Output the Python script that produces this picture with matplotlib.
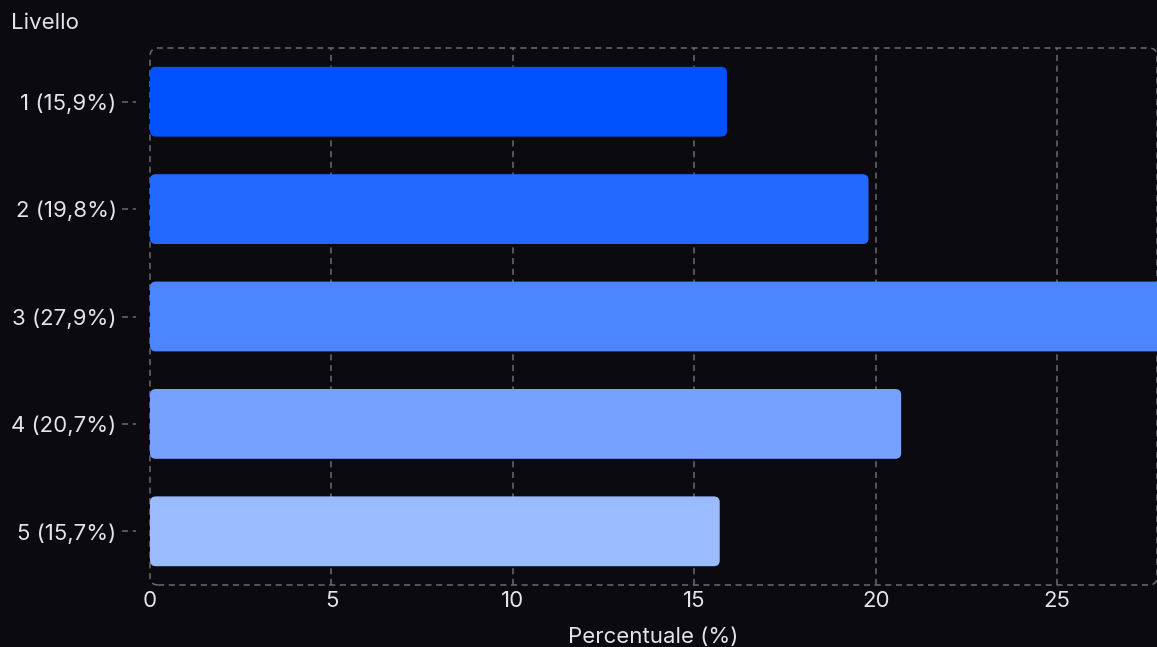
import matplotlib.pyplot as plt
from matplotlib.patches import FancyBboxPatch
from matplotlib.transforms import blended_transform_factory

# Dati
livelli = ["1 (15,9%)", "2 (19,8%)", "3 (27,9%)", "4 (20,7%)", "5 (15,7%)"]
percentuali = [15.9, 19.8, 27.9, 20.7, 15.7]
colori = ["#0052ff", "#2368ff", "#4c86ff", "#77a1ff", "#9bbbff"]
tick_x = [0, 5, 10, 15, 20, 25]

sfondo = "#0a0a0f"
testo = "#e6e2ea"
griglia = "#6a6a70"

plt.rcParams['font.family'] = ['Inter', 'DejaVu Sans']

fig = plt.figure(figsize=(11.57, 6.47), dpi=100, facecolor=sfondo)
ax = fig.add_axes([150 / 1157, 1 - 585 / 647, 1 - 150 / 1157, 537 / 647])
ax.set_facecolor(sfondo)

ax.set_xlim(0, 27.75)
ax.set_ylim(4.5, -0.5)

# Barre con angoli arrotondati
altezza = 0.65
for i, (v, c) in enumerate(zip(percentuali, colori)):
    barra = FancyBboxPatch((0, i - altezza / 2), v, altezza,
                           boxstyle="round,pad=0,rounding_size=0.16",
                           mutation_aspect=0.34, facecolor=c, edgecolor="none",
                           zorder=3)
    ax.add_patch(barra)

# Griglia verticale tratteggiata
for t in tick_x[1:]:
    ax.axvline(t, color=griglia, linestyle=(0, (4, 3)), linewidth=1.1, zorder=1)

# Cornice tratteggiata arrotondata
for s in ax.spines.values():
    s.set_visible(False)
cornice = FancyBboxPatch((0, 0), 1, 1, transform=ax.transAxes,
                         boxstyle="round,pad=0,rounding_size=0.008",
                         mutation_aspect=1.87, facecolor="none",
                         edgecolor=griglia, linestyle=(0, (4, 3)),
                         linewidth=1.1, clip_on=False, zorder=1)
ax.add_patch(cornice)

# Tacche tratteggiate sull'asse y
trasf = blended_transform_factory(ax.transAxes, ax.transData)
for i in range(len(livelli)):
    ax.plot([-28 / 1007, -14 / 1007], [i, i], color=griglia, linestyle=(0, (4, 3)),
            linewidth=1.1, transform=trasf, clip_on=False)

ax.set_yticks(range(len(livelli)))
ax.set_yticklabels(livelli)
ax.set_xticks(tick_x)
ax.set_xticklabels([str(t) for t in tick_x])
ax.tick_params(axis='y', length=0, pad=24, labelsize=16, labelcolor=testo)
ax.tick_params(axis='x', length=0, pad=4, labelsize=16, labelcolor=testo)

fig.text(11 / 1157, 1 - 23 / 647, "Livello", color=testo, fontsize=16,
         ha='left', va='center')
ax.set_xlabel("Percentuale (%)", color=testo, fontsize=16, labelpad=12)

fig.savefig("out.png", dpi=100, facecolor=sfondo)
